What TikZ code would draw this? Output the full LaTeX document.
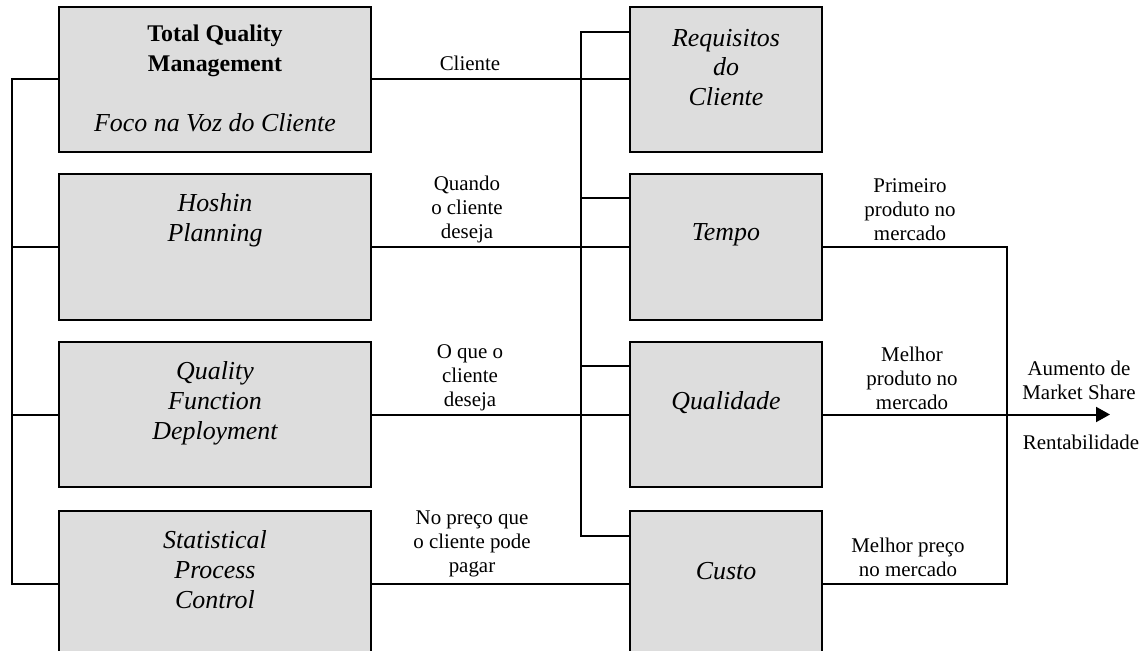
\documentclass[tikz,border=0pt]{standalone}
\usepackage{fontspec}
\setmainfont{Liberation Serif}
\usetikzlibrary{arrows.meta}
\definecolor{boxgray}{HTML}{DDDDDD}
\begin{document}
\begin{tikzpicture}[x=1bp,y=-1bp,
  box/.style={draw=black, line width=2bp, fill=boxgray, rectangle,
              inner sep=0pt, outer sep=0pt, minimum height=145bp},
  widebox/.style={box, minimum width=312bp},
  narrowbox/.style={box, minimum width=192bp},
  boxtext/.style={align=center, inner sep=0pt, font=\fontsize{26}{30}\selectfont\itshape},
  titletext/.style={align=center, inner sep=0pt, font=\fontsize{24}{30}\selectfont\bfseries},
  lbl/.style={align=center, inner sep=0pt, font=\fontsize{21}{24}\selectfont},
  link/.style={line width=2bp, draw=black},
  arrowlink/.style={link, -{Triangle[length=14bp,width=15bp]}}
]
\useasboundingbox (0,0) rectangle (1148,651);
\clip (0,0) rectangle (1148,651);

% methods (left column)
\node[widebox] (tqm) at (215,79.5) {};
\node[widebox] (hos) at (215,247) {};
\node[widebox] (qfd) at (215,414.5) {};
\node[widebox] (spc) at (215,583.5) {};

% results (right column)
\node[narrowbox] (req) at (726,79.5) {};
\node[narrowbox] (tem) at (726,247) {};
\node[narrowbox] (qua) at (726,414.5) {};
\node[narrowbox] (cus) at (726,583.5) {};

% box texts
\node[titletext] (tqmA) at (215,51) {Total Quality\\Management};
\node[boxtext]   (tqmB) at (215,123) {Foco na Voz do Cliente};
\node[boxtext]   (hosT) at (215,220) {Hoshin\\Planning};
\node[boxtext]   (qfdT) at (215,403) {Quality\\Function\\Deployment};
\node[boxtext]   (spcT) at (215,570) {Statistical\\Process\\Control};
\node[boxtext]   (reqT) at (726,67.5) {Requisitos\\do\\Cliente};
\node[boxtext]   (temT) at (726,235) {Tempo};
\node[boxtext]   (quaT) at (726,402.5) {Qualidade};
\node[boxtext]   (cusT) at (726,571) {Custo};

% bus positions
\coordinate (busL) at (12,0);
\coordinate (busR) at (581,0);
\coordinate (busO) at (1007,0);
\coordinate (tipX) at (1110,0);

% left bus joining the methods
\draw[link] (tqm.west) -- (tqm.west -| busL) -- (spc.west -| busL) -- (spc.west);
\draw[link] (hos.west) -- (hos.west -| busL);
\draw[link] (qfd.west) -- (qfd.west -| busL);

% methods to results
\draw[link] (tqm.east) -- (req.west);
\draw[link] (hos.east) -- (tem.west);
\draw[link] (qfd.east) -- (qua.west);
\draw[link] (spc.east) -- (cus.west);

% right bus joining the results
\coordinate (r1) at ([yshift=-25bp]req.north west);
\coordinate (r2) at ([yshift=-24bp]tem.north west);
\coordinate (r3) at ([yshift=-24bp]qua.north west);
\coordinate (r4) at ([yshift=-25bp]cus.north west);
\draw[link] (r1) -- (r1 -| busR) -- (r4 -| busR) -- (r4);
\draw[link] (r2) -- (r2 -| busR);
\draw[link] (r3) -- (r3 -| busR);

% outputs
\draw[link] (tem.east) -- (tem.east -| busO) -- (cus.east -| busO) -- (cus.east);
\draw[arrowlink] (qua.east) -- (qua.east -| tipX);

% connector labels
\node[lbl] (l1) at (470,63) {Cliente};
\node[lbl] (l2) at (467,209.5) {Quando\\o cliente\\deseja};
\node[lbl] (l3) at (470,378) {O que o\\cliente\\deseja};
\node[lbl] (l4) at (472,544) {No preço que\\o cliente pode\\pagar};
\node[lbl] (l5) at (910,210) {Primeiro\\produto no\\mercado};
\node[lbl] (l6) at (912,378) {Melhor\\produto no\\mercado};
\node[lbl] (l7) at (908,557) {Melhor preço\\no mercado};
\node[lbl] (l8) at (1079,380) {Aumento de\\Market Share};
\node[lbl] (l9) at (1081,442) {Rentabilidade};
\end{tikzpicture}
\end{document}
